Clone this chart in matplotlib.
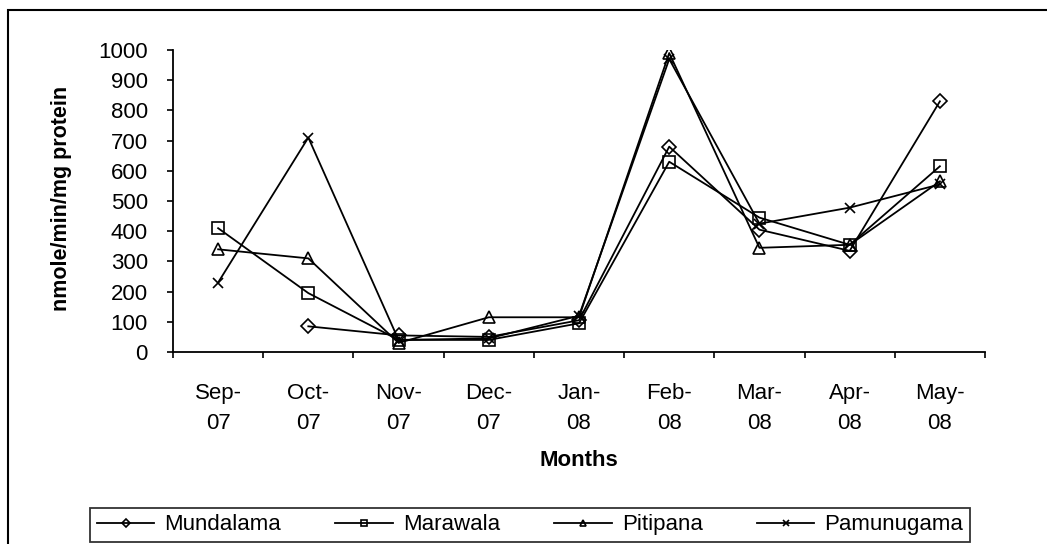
import numpy as np
import matplotlib
matplotlib.use('Agg')
import matplotlib.pyplot as plt
from matplotlib.patches import Rectangle

plt.rcParams['font.family'] = ['Liberation Sans', 'DejaVu Sans']

months = ['Sep-\n07', 'Oct-\n07', 'Nov-\n07', 'Dec-\n07', 'Jan-\n08',
          'Feb-\n08', 'Mar-\n08', 'Apr-\n08', 'May-\n08']
mundalama = [np.nan, 85, 55, 50, 105, 680, 405, 335, 830]
marawala = [410, 195, 40, 40, 95, 630, 445, 355, 615]
pitipana = [340, 310, 30, 115, 115, 990, 345, 355, 565]
pamunugama = [230, 710, 40, 45, 120, 970, 425, 478, 555]

W, H = 1047, 544
fig = plt.figure(figsize=(W / 100, H / 100), dpi=100)
ax = fig.add_axes([173 / W, 1 - 352 / H, (985 - 173) / W, (352 - 50) / H])

x = np.arange(len(months)) + 0.5
ax.plot(x, mundalama, color='black', lw=1.3, marker='D', ms=7, mfc='none', mew=1.2, label='Mundalama')
ax.plot(x, marawala, color='black', lw=1.3, marker='s', ms=8, mfc='none', mew=1.2, label='Marawala')
ax.plot(x, pitipana, color='black', lw=1.3, marker='^', ms=9, mfc='none', mew=1.2, label='Pitipana')
ax.plot(x, pamunugama, color='black', lw=1.3, marker='x', ms=7.5, mew=1.2, label='Pamunugama')

ax.set_xlim(0, len(months))
ax.set_ylim(0, 1000)
ax.set_yticks(range(0, 1001, 100))
ax.set_xticks(range(len(months) + 1))
ax.set_xticklabels([])
ax.set_xticks(x, minor=True)
ax.set_xticklabels(months, minor=True, linespacing=1.6)
ax.tick_params(axis='x', which='major', direction='out', length=4, width=1.2)
ax.tick_params(axis='x', which='minor', length=0, pad=22, labelsize=16)
ax.tick_params(axis='y', direction='out', length=4, width=1.2, labelsize=16, pad=14)
for s in ['top', 'right']:
    ax.spines[s].set_visible(False)
for s in ['left', 'bottom']:
    ax.spines[s].set_linewidth(1.3)

fig.text(62 / W, 1 - 198 / H, 'nmole/min/mg protein', rotation=90, fontsize=15.5,
         fontweight='bold', ha='center', va='center')
fig.text(579 / W, 1 - 460 / H, 'Months', fontsize=16, fontweight='bold', ha='center', va='center')

leg = fig.legend(loc='lower left', bbox_to_anchor=(90 / W, 1 - 542 / H, 880 / W, 40 / H),
                 mode='expand', ncol=4, borderaxespad=0, fontsize=16, frameon=True,
                 fancybox=False, edgecolor='black', handlelength=2.6, handletextpad=0.45,
                 borderpad=0.3)
leg.get_frame().set_linewidth(1.3)
for h in leg.legend_handles:
    h.set_markersize(4.5)

fig.patches.append(Rectangle((8 / W, -0.05), 1.1, 1 - 10 / H + 0.05, transform=fig.transFigure,
                             fill=False, edgecolor='black', lw=1.5))

plt.savefig('out.png', dpi=100)
